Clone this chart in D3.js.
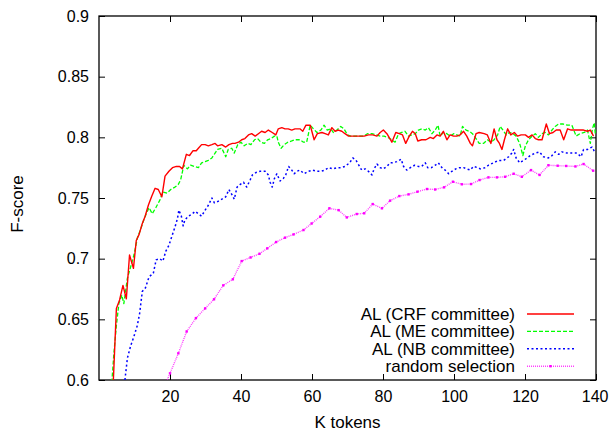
<!DOCTYPE html>
<html>
<head>
<meta charset="utf-8">
<script src="https://cdn.jsdelivr.net/npm/d3@7"></script>
<style>
  html, body { margin: 0; padding: 0; background: #fff; }
  svg { display: block; }
  text { font-family: "Liberation Sans", Arial, Helvetica, sans-serif; fill: #000; }
</style>
</head>
<body>
<script>
// ---- data: F-score vs. thousands of annotated tokens ----
const crfK = [3.9, 4.9, 5.8, 6.75, 7.7, 8.6, 9.7, 10.5, 11.3, 12.2, 13.0, 13.9, 14.8, 15.8, 16.7, 17.7, 18.6, 19.7, 20.7, 21.8, 22.7, 23.5, 24.6, 25.5, 26.5, 27.4,
  28.0, 28.9, 29.9, 30.8, 31.8, 32.7, 33.4, 34.6, 35.7, 36.6, 37.6, 38.3, 39.3, 40.2, 41.1, 42.1, 43.0, 44.0, 44.9, 45.8, 46.8, 47.7, 48.8, 49.8, 50.5, 51.5, 52.4, 53.3, 54.3, 55.2,
  55.7, 56.6, 57.4, 58.3, 59.5, 60.6, 61.5, 62.8, 63.7, 64.6, 65.6, 66.5, 67.4, 68.4, 69.3, 70.3, 71.2, 72.4, 73.6, 74.7, 75.9, 77.1, 78.3, 79.2, 80.1, 81.1,
  82.5, 83.6, 84.6, 85.5, 86.4, 87.4, 88.3, 89.1, 89.8, 90.9, 92.1, 93.3, 94.2, 95.2, 96.1, 97.0, 98.0, 98.9, 99.9, 100.8, 101.7, 102.7, 103.6, 104.6, 105.2, 106.2, 107.1,
  108.5, 109.4, 110.4, 111.3, 112.1, 112.8, 113.5, 114.2, 115.1, 116.0, 117.0, 117.9, 118.9, 120.1, 121.0, 122.0, 122.9, 123.8, 124.8, 126.0, 126.9, 127.9, 128.8, 129.9, 130.9, 132.0, 133.0, 134.2, 135.4, 136.5, 137.6, 138.4, 139.3];
const crfF = [0.590, 0.659, 0.666, 0.678, 0.667, 0.703, 0.692, 0.715, 0.720, 0.729, 0.735, 0.744, 0.751, 0.758, 0.757, 0.751, 0.768, 0.772, 0.775, 0.776, 0.776, 0.774, 0.786, 0.785, 0.789, 0.789,
  0.791, 0.794, 0.794, 0.793, 0.794, 0.795, 0.793, 0.794, 0.792, 0.794, 0.795, 0.795, 0.796, 0.798, 0.799, 0.802, 0.803, 0.801, 0.803, 0.805, 0.804, 0.806, 0.804, 0.802, 0.807, 0.808, 0.807, 0.807, 0.806, 0.807,
  0.807, 0.807, 0.805, 0.810, 0.810, 0.798, 0.803, 0.804, 0.803, 0.802, 0.808, 0.805, 0.806, 0.805, 0.803, 0.801, 0.801, 0.801, 0.801, 0.801, 0.802, 0.802, 0.801, 0.804, 0.806, 0.803,
  0.796, 0.804, 0.803, 0.802, 0.795, 0.801, 0.805, 0.803, 0.797, 0.798, 0.798, 0.800, 0.799, 0.802, 0.801, 0.805, 0.798, 0.802, 0.801, 0.801, 0.802, 0.805, 0.801, 0.795, 0.793, 0.803, 0.804,
  0.803, 0.802, 0.795, 0.807, 0.798, 0.795, 0.790, 0.798, 0.807, 0.802, 0.804, 0.801, 0.802, 0.802, 0.800, 0.802, 0.799, 0.798, 0.798, 0.811, 0.803, 0.804, 0.806, 0.806, 0.798, 0.807, 0.806, 0.806, 0.806, 0.806, 0.805, 0.806, 0.801];

const meK = [3.6, 4.2, 4.9, 5.6, 6.4, 7.0, 8.0, 8.9, 9.85, 10.8, 11.7, 12.5, 13.3, 14.1, 15.0, 16.0, 17.1, 18.0, 19.2, 20.2, 21.4, 22.3, 23.0, 23.9, 24.9, 25.8, 26.8,
  28.0, 28.9, 29.9, 30.8, 31.8, 32.7, 33.4, 34.6, 35.7, 36.4, 37.4, 38.1, 39.1, 40.0, 40.9, 41.9, 42.8, 43.8, 44.7, 45.6, 46.6, 47.5, 48.5, 49.4, 50.1, 50.5, 51.3, 52.2, 53.2, 54.3, 55.2,
  55.7, 56.6, 57.6, 58.5, 59.5, 60.4, 61.4, 62.5, 63.4, 64.3, 65.3, 66.0, 67.0, 68.1, 69.0, 70.0, 70.9, 72.2, 73.4, 74.5, 75.6, 76.9, 78.1, 79.2, 80.3, 81.3,
  82.5, 83.4, 84.4, 85.3, 86.2, 87.2, 88.1, 89.1, 90.0, 90.9, 91.9, 92.8, 93.8, 94.7, 95.5, 96.1, 97.0, 98.0, 98.9, 99.9, 100.8, 101.7, 102.4, 103.4, 104.3, 105.2, 106.2, 107.1,
  108.3, 109.4, 110.4, 111.3, 112.3, 113.0, 113.8, 114.7, 115.6, 116.6, 117.5, 118.5, 119.4, 120.1, 121.0, 122.0, 122.9, 123.8, 124.8, 125.7, 126.6, 127.6, 128.5, 129.5, 130.7, 132.0, 133.2, 134.4, 135.5, 136.7, 137.6, 138.4, 139.0, 139.5, 139.8];
const meF = [0.598, 0.622, 0.645, 0.663, 0.670, 0.663, 0.684, 0.693, 0.703, 0.717, 0.724, 0.731, 0.737, 0.742, 0.737, 0.742, 0.748, 0.755, 0.754, 0.757, 0.759, 0.761, 0.765, 0.777, 0.774, 0.777, 0.776,
  0.775, 0.779, 0.780, 0.781, 0.783, 0.787, 0.790, 0.791, 0.784, 0.790, 0.791, 0.787, 0.794, 0.796, 0.793, 0.795, 0.794, 0.798, 0.799, 0.796, 0.795, 0.798, 0.799, 0.801, 0.801, 0.796, 0.791, 0.794, 0.796, 0.797, 0.798,
  0.798, 0.798, 0.796, 0.796, 0.810, 0.807, 0.804, 0.806, 0.810, 0.806, 0.807, 0.804, 0.806, 0.809, 0.807, 0.802, 0.801, 0.801, 0.801, 0.801, 0.803, 0.803, 0.802, 0.801, 0.801, 0.800,
  0.798, 0.796, 0.803, 0.804, 0.805, 0.801, 0.802, 0.803, 0.806, 0.807, 0.806, 0.808, 0.803, 0.806, 0.810, 0.801, 0.804, 0.803, 0.801, 0.803, 0.802, 0.801, 0.809, 0.806, 0.805, 0.803, 0.799, 0.795,
  0.795, 0.798, 0.796, 0.798, 0.802, 0.809, 0.806, 0.802, 0.804, 0.803, 0.801, 0.795, 0.785, 0.793, 0.798, 0.801, 0.803, 0.800, 0.803, 0.804, 0.802, 0.806, 0.809, 0.811, 0.811, 0.810, 0.810, 0.801, 0.803, 0.804, 0.806, 0.795, 0.807, 0.812, 0.803];

const nbK = [7.3, 8.0, 8.9, 9.85, 10.8, 11.45, 12.2, 13.1, 14.1, 15.3, 16.1, 17.1, 18.0, 18.8, 19.7, 20.7, 21.4, 22.1, 22.5, 23.2, 23.7, 24.2, 25.2, 26.3,
  27.1, 28.0, 28.9, 29.9, 30.8, 31.8, 32.5, 33.4, 34.6, 35.7, 36.6, 37.4, 38.1, 38.9, 39.7, 40.7, 41.6, 42.6, 43.2, 44.2, 45.4, 46.8, 47.7, 48.2, 48.8, 49.4, 50.1, 51.0, 51.9, 52.6, 53.4, 54.3, 55.0,
  55.7, 56.6, 57.8, 59.0, 60.2, 61.4, 62.5, 63.7, 64.6, 65.9, 67.0, 68.1, 69.3, 70.6, 71.5, 72.4, 73.4, 74.0, 75.0, 75.9, 76.9, 77.5, 78.3, 79.2, 80.1, 81.1, 82.0,
  82.7, 83.9, 85.1, 85.8, 86.7, 87.7, 88.9, 90.0, 90.9, 91.9, 92.6, 93.6, 94.7, 95.6, 96.6, 97.5, 98.5, 99.4, 100.5, 101.5, 102.7, 103.6, 104.6, 105.5, 106.7,
  107.4, 108.8, 109.7, 111.1, 112.5, 114.0, 115.4, 116.3, 116.8, 117.5, 118.5, 119.6, 120.6, 121.5, 122.9, 124.1, 125.2, 126.6, 127.6, 128.5, 129.5, 130.4, 131.8, 133.2, 134.6, 135.8, 136.5, 137.6, 138.9, 139.8];
const nbF = [0.600, 0.618, 0.628, 0.636, 0.645, 0.655, 0.673, 0.676, 0.685, 0.688, 0.699, 0.700, 0.698, 0.706, 0.711, 0.720, 0.726, 0.733, 0.740, 0.735, 0.727, 0.732, 0.735, 0.737,
  0.739, 0.737, 0.735, 0.740, 0.744, 0.750, 0.746, 0.747, 0.749, 0.751, 0.757, 0.753, 0.749, 0.759, 0.761, 0.763, 0.759, 0.765, 0.769, 0.771, 0.772, 0.772, 0.769, 0.763, 0.759, 0.766, 0.770, 0.764, 0.766, 0.769, 0.776, 0.773, 0.770,
  0.772, 0.773, 0.770, 0.772, 0.773, 0.772, 0.772, 0.773, 0.775, 0.774, 0.775, 0.775, 0.776, 0.779, 0.783, 0.781, 0.776, 0.773, 0.774, 0.772, 0.769, 0.774, 0.778, 0.775, 0.774, 0.776, 0.779,
  0.779, 0.780, 0.782, 0.776, 0.773, 0.775, 0.777, 0.776, 0.776, 0.779, 0.775, 0.775, 0.777, 0.779, 0.775, 0.773, 0.770, 0.772, 0.774, 0.775, 0.775, 0.774, 0.773, 0.776, 0.775,
  0.774, 0.775, 0.777, 0.779, 0.781, 0.781, 0.784, 0.787, 0.790, 0.783, 0.779, 0.781, 0.783, 0.785, 0.787, 0.788, 0.784, 0.783, 0.785, 0.788, 0.786, 0.788, 0.787, 0.787, 0.787, 0.784, 0.790, 0.790, 0.792, 0.787];

const randK = [17.5, 20.0, 22.35, 24.7, 27.3, 29.9, 32.4, 35.0, 37.7, 40.2, 42.7, 45.2, 47.4, 49.9, 52.4, 54.8, 57.6, 59.9, 62.3, 64.9, 67.5, 69.8, 72.6, 74.7, 77.1, 79.7,
  82.0, 84.6, 87.2, 89.7, 92.4, 94.7, 97.2, 99.7, 102.2, 104.8, 107.2, 109.7, 112.1, 114.4, 116.8, 119.1, 121.7, 124.1, 126.6, 129.2, 131.6, 134.2, 136.5, 139.2];
const randF = [0.588, 0.6055, 0.622, 0.640, 0.651, 0.659, 0.6665, 0.678, 0.683, 0.698, 0.701, 0.704, 0.7085, 0.7137, 0.7173, 0.720, 0.7236, 0.729, 0.7346, 0.7415, 0.740, 0.734, 0.7368, 0.7374, 0.745, 0.7415,
  0.7478, 0.7516, 0.753, 0.7552, 0.7574, 0.757, 0.7588, 0.7634, 0.7613, 0.7615, 0.7648, 0.767, 0.767, 0.7675, 0.770, 0.7675, 0.773, 0.769, 0.777, 0.7766, 0.7764, 0.776, 0.778, 0.7725];

const xTicks = [20, 40, 60, 80, 100, 120, 140];
const yTicks = [0.6, 0.65, 0.7, 0.75, 0.8, 0.85, 0.9];
const seriesNames = ["AL (CRF committee)", "AL (ME committee)", "AL (NB committee)", "random selection"];

// ---- layout ----
const W = 609, H = 432;
const plotL = 99, plotR = 596, plotT = 16, plotB = 380;

const x = d3.scaleLinear().domain([0, 140]).range([plotL, plotR]);
const y = d3.scaleLinear().domain([0.6, 0.9]).range([plotB, plotT]);

const svg = d3.select("body").append("svg")
  .attr("width", W).attr("height", H)
  .attr("viewBox", `0 0 ${W} ${H}`);

svg.append("defs").append("clipPath").attr("id", "plot-clip")
  .append("rect")
  .attr("x", plotL).attr("y", plotT)
  .attr("width", plotR - plotL).attr("height", plotB - plotT);

const fontSize = 17;
const tickFontSize = 16;

// axes with inward ticks, mirrored on the opposite sides
const tickLen = 6;
const axB = svg.append("g").attr("transform", `translate(0,${plotB})`)
  .call(d3.axisBottom(x).tickValues(xTicks).tickSizeInner(-tickLen).tickSizeOuter(0).tickPadding(11).tickFormat(d3.format("d")));
const axT = svg.append("g").attr("transform", `translate(0,${plotT})`)
  .call(d3.axisTop(x).tickValues(xTicks).tickSizeInner(-tickLen).tickSizeOuter(0).tickFormat(""));
const axL = svg.append("g").attr("transform", `translate(${plotL},0)`)
  .call(d3.axisLeft(y).tickValues(yTicks).tickSizeInner(-tickLen).tickSizeOuter(0).tickPadding(10).tickFormat(d => String(+d.toFixed(2))));
const axR = svg.append("g").attr("transform", `translate(${plotR},0)`)
  .call(d3.axisRight(y).tickValues(yTicks).tickSizeInner(-tickLen).tickSizeOuter(0).tickFormat(""));

[axB, axT, axL, axR].forEach(g => {
  g.select(".domain").remove();
  g.selectAll(".tick line").attr("stroke", "#000").attr("stroke-width", 1);
  g.selectAll(".tick text").attr("font-size", tickFontSize).attr("font-family", "Liberation Sans, Arial, sans-serif").attr("fill", "#000");
});

// the last x label sits at the frame corner; keep it inside the page
axB.selectAll(".tick text").filter(d => d === 140).attr("text-anchor", "end").attr("dx", "12");

// plot frame
svg.append("rect")
  .attr("x", plotL).attr("y", plotT)
  .attr("width", plotR - plotL).attr("height", plotB - plotT)
  .attr("fill", "none").attr("stroke", "#000").attr("stroke-width", 1.3);

// axis titles
svg.append("text")
  .attr("transform", `translate(23,${(plotT + plotB) / 2 + 6}) rotate(-90)`)
  .attr("text-anchor", "middle").attr("font-size", fontSize)
  .text("F-score");
svg.append("text")
  .attr("x", (plotL + plotR) / 2).attr("y", 428)
  .attr("text-anchor", "middle").attr("font-size", fontSize)
  .text("K tokens");

// series styles
const series = [
  { name: seriesNames[0], k: crfK, f: crfF, color: "#ff0000", width: 1.4, dash: null },
  { name: seriesNames[1], k: meK, f: meF, color: "#00ff00", width: 1.3, dash: "4,2" },
  { name: seriesNames[2], k: nbK, f: nbF, color: "#0000ff", width: 1.5, dash: "2,2.5" },
  { name: seriesNames[3], k: randK, f: randF, color: "#ff00ff", width: 1.4, dash: "1,1", marker: true }
];

const line = d3.line().x(d => x(d[0])).y(d => y(d[1]));
const plot = svg.append("g").attr("clip-path", "url(#plot-clip)");

// draw back-to-front so the CRF curve sits on top
series.slice().reverse().forEach(s => {
  const pts = s.k.map((k, i) => [k, s.f[i]]);
  plot.append("path")
    .datum(pts)
    .attr("d", line)
    .attr("fill", "none")
    .attr("stroke", s.color)
    .attr("stroke-width", s.width)
    .attr("stroke-dasharray", s.dash)
    .attr("stroke-opacity", s.marker ? 0.75 : 1)
    .attr("stroke-linejoin", "round");
  if (s.marker) {
    plot.selectAll(null).data(pts).enter().append("rect")
      .attr("x", d => x(d[0]) - 1.2).attr("y", d => y(d[1]) - 1.2)
      .attr("width", 2.4).attr("height", 2.4)
      .attr("fill", s.color);
  }
});

// legend
const legTextX = 515, legLineX0 = 527, legLineX1 = 574, legY0 = 314, legStep = 17.4;
series.forEach((s, i) => {
  const cy = legY0 + i * legStep;
  svg.append("text")
    .attr("x", legTextX).attr("y", cy).attr("dy", "0.35em")
    .attr("text-anchor", "end").attr("font-size", fontSize)
    .text(s.name);
  svg.append("line")
    .attr("x1", legLineX0).attr("x2", legLineX1)
    .attr("y1", cy).attr("y2", cy)
    .attr("stroke", s.color).attr("stroke-width", s.width)
    .attr("stroke-dasharray", s.dash)
    .attr("stroke-opacity", s.marker ? 0.75 : 1);
  if (s.marker) {
    svg.append("rect")
      .attr("x", (legLineX0 + legLineX1) / 2 - 1.2).attr("y", cy - 1.2)
      .attr("width", 2.4).attr("height", 2.4).attr("fill", s.color);
  }
});
</script>
</body>
</html>
